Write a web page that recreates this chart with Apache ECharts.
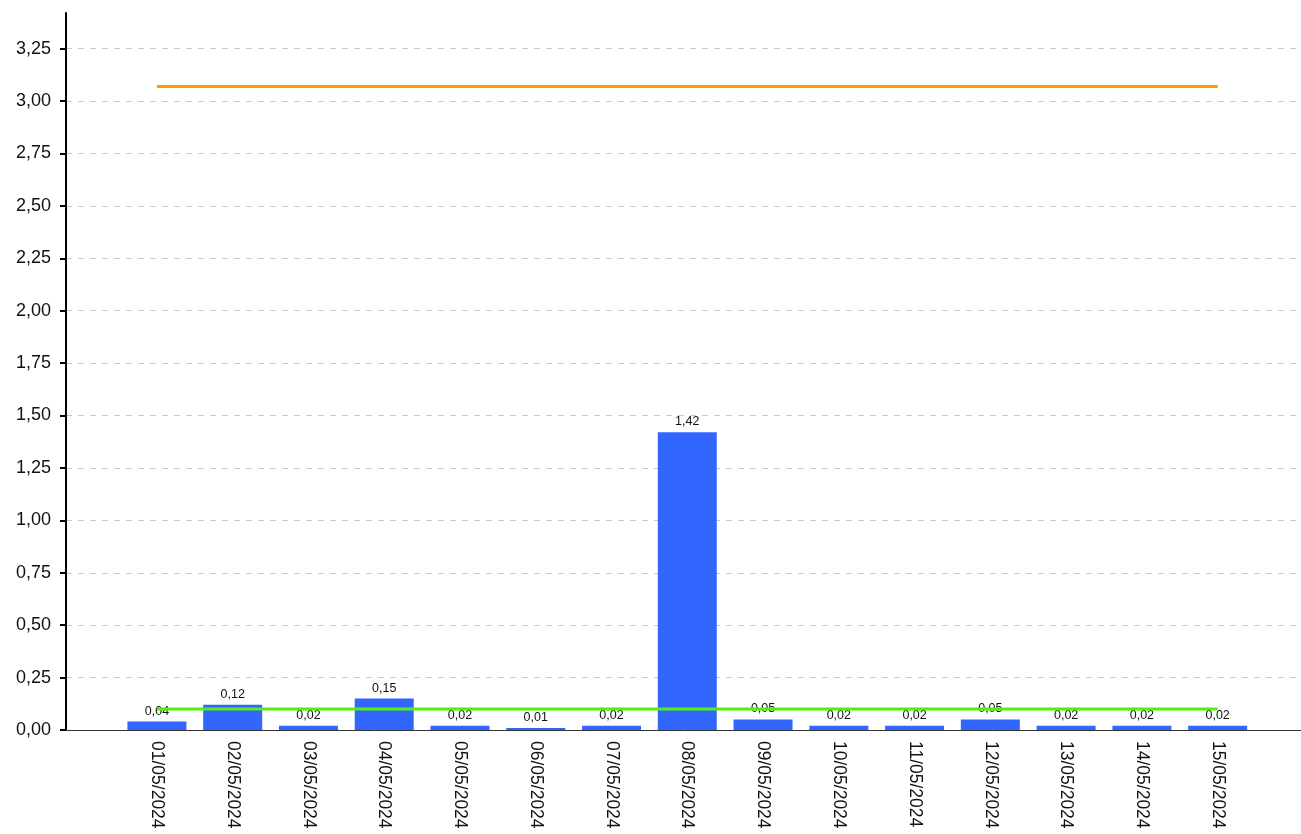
<!DOCTYPE html>
<html>
<head>
<meta charset="utf-8">
<script src="https://cdn.jsdelivr.net/npm/echarts@6/dist/echarts.min.js"></script>
<style>
html,body{margin:0;padding:0;background:#fff;}
#chart{width:1301px;height:834px;}
</style>
</head>
<body>
<div id="chart"></div>
<script>
const dates = ['01/05/2024','02/05/2024','03/05/2024','04/05/2024','05/05/2024','06/05/2024','07/05/2024','08/05/2024','09/05/2024','10/05/2024','11/05/2024','12/05/2024','13/05/2024','14/05/2024','15/05/2024'];
const values = [0.04, 0.12, 0.02, 0.15, 0.02, 0.01, 0.02, 1.42, 0.05, 0.02, 0.02, 0.05, 0.02, 0.02, 0.02];
const upperLine = [3.07, 3.07, 3.07, 3.07, 3.07, 3.07, 3.07, 3.07, 3.07, 3.07, 3.07, 3.07, 3.07, 3.07, 3.07];
const lowerLine = [0.10, 0.10, 0.10, 0.10, 0.10, 0.10, 0.10, 0.10, 0.10, 0.10, 0.10, 0.10, 0.10, 0.10, 0.10];
const yTicks = [0, 0.25, 0.5, 0.75, 1, 1.25, 1.5, 1.75, 2, 2.25, 2.5, 2.75, 3, 3.25];

const fmt = v => v.toFixed(2).replace('.', ',');
const idx = dates.map((d, i) => i);

const chart = echarts.init(document.getElementById('chart'), null, {renderer: 'canvas'});
const gridColors = yTicks.map(() => '#c8c8c8').concat(['rgba(0,0,0,0)']);
chart.setOption({
  animation: false,
  textStyle: {fontFamily: 'Liberation Sans, Arial, sans-serif'},
  grid: {left: 66, right: 0, top: 13, bottom: 104, containLabel: false},
  xAxis: {
    type: 'value', min: -1.2, max: 15.1,
    axisLine: {show: true, onZero: false, lineStyle: {color: '#333', width: 1}},
    axisTick: {show: false},
    splitLine: {show: false},
    axisLabel: {
      customValues: idx,
      formatter: v => dates[Math.round(v)] || '',
      rotate: -90, fontSize: 17.5, color: '#111', margin: 11
    }
  },
  yAxis: {
    type: 'value', min: 0, max: 3.42, interval: 0.25,
    axisLine: {show: true, onZero: false, lineStyle: {color: '#000', width: 2}},
    axisTick: {show: true, length: 6, lineStyle: {color: '#000', width: 2}, customValues: yTicks},
    axisLabel: {customValues: yTicks, formatter: v => fmt(v), fontSize: 18, color: '#111', margin: 15},
    splitLine: {show: true, lineStyle: {color: gridColors, type: [6, 6], width: 1}}
  },
  series: [
    {
      type: 'bar', barWidth: 59, z: 2,
      itemStyle: {color: '#3366ff'},
      data: values.map((v, i) => [i, v]),
      label: {show: true, position: 'top', distance: 4, fontSize: 12.5, color: '#111', formatter: p => fmt(p.value[1])}
    },
    {
      type: 'line', symbol: 'none', z: 3,
      lineStyle: {color: '#ff9900', width: 3},
      data: upperLine.map((v, i) => [i, v])
    },
    {
      type: 'line', symbol: 'none', z: 3,
      lineStyle: {color: '#55ee11', width: 3},
      data: lowerLine.map((v, i) => [i, v])
    }
  ]
});
</script>
</body>
</html>
